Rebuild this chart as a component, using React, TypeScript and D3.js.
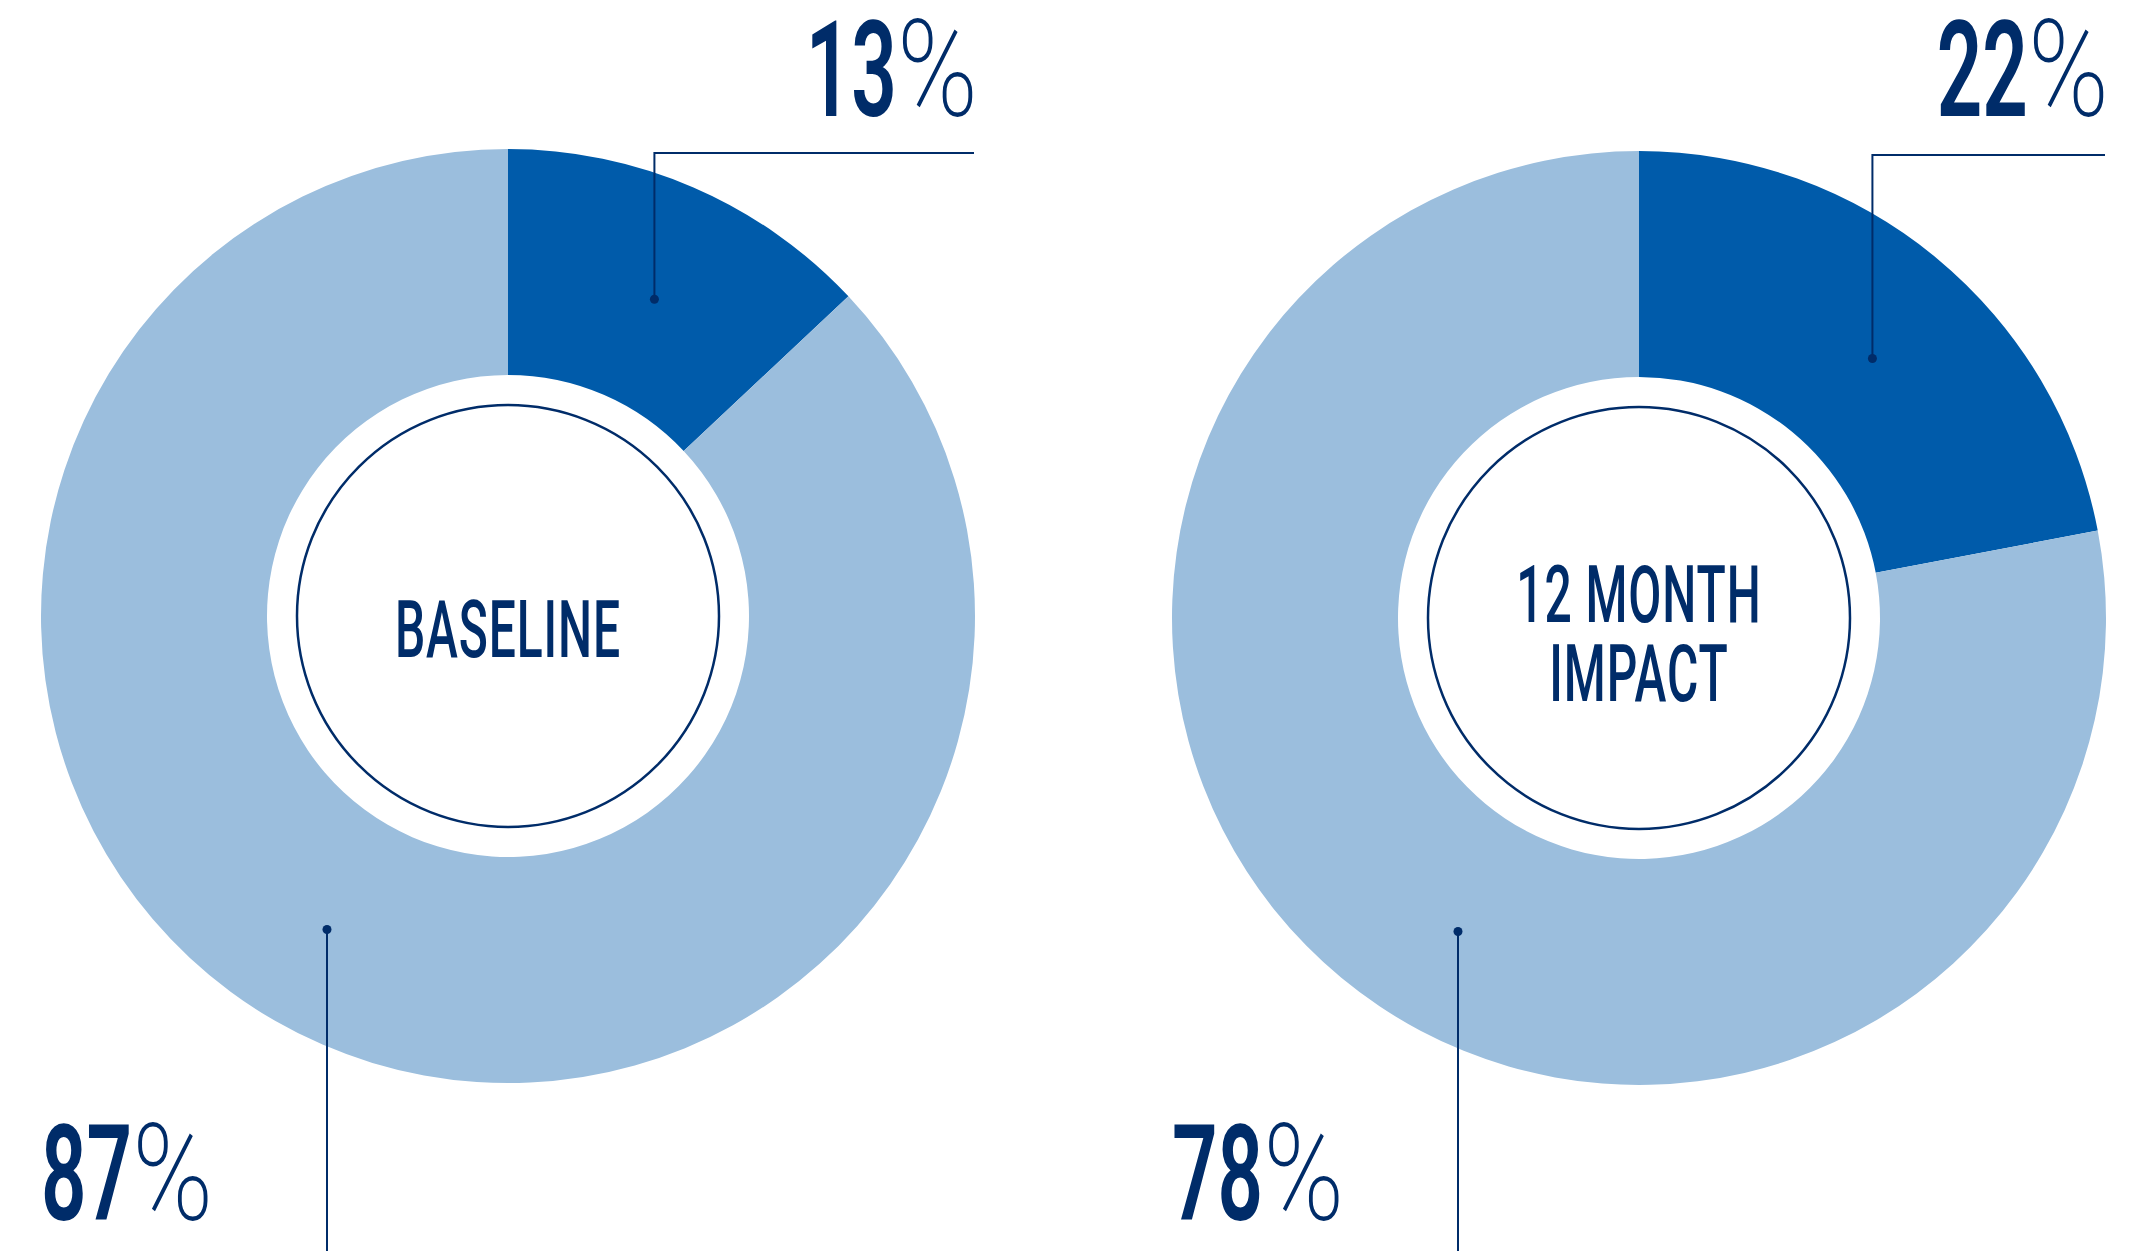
import React from 'react';
import * as d3 from 'd3';

// ---- data ----
const chartTitles = ['BASELINE', '12 MONTH IMPACT'];
const titleLines = [['BASELINE'], ['12 MONTH', 'IMPACT']];
const highlightShare = [13, 22];
const remainderShare = [87, 78];

// ---- style ----
const W = 2146;
const H = 1251;
const DARK = '#005BAA';
const LIGHT = '#9BBEDD';
const NAVY = '#002C69';
const FONT = 'Roboto, "Liberation Sans", sans-serif';
const centers = [
  { cx: 508, cy: 616 },
  { cx: 1639, cy: 618 },
];
const R_OUT = 467;
const R_IN = 241;
const R_RING = 211;
const SX = 0.6; // horizontal condense factor for digits
const PX = 0.82; // horizontal condense for percent sign
const PY = 1.02;

function Pct({ x, y, value, anchor }: { x: number; y: number; value: number; anchor: 'start' | 'end' }) {
  const dRef = React.useRef<SVGTextElement>(null);
  const pRef = React.useRef<SVGTextElement>(null);
  const [m, setM] = React.useState({ dw: 0, pw: 0 });
  React.useLayoutEffect(() => {
    if (dRef.current && pRef.current) {
      const dw = dRef.current.getBBox().width * SX;
      const pw = pRef.current.getBBox().width * PX;
      if (Math.abs(dw - m.dw) > 0.5 || Math.abs(pw - m.pw) > 0.5) setM({ dw, pw });
    }
  });
  const total = m.dw + m.pw;
  const x0 = anchor === 'end' ? x - total : x;
  return (
    <g fill={NAVY} fontFamily={FONT}>
      <text ref={dRef} transform={`translate(${x0},${y}) scale(${SX},1)`} fontSize={133} fontWeight={600}>
        {value}
      </text>
      <text ref={pRef} transform={`translate(${x0 + m.dw},${y}) scale(${PX},${PY})`} fontSize={133} fontWeight={200}>
        %
      </text>
    </g>
  );
}

function Donut({ i }: { i: number }) {
  const { cx, cy } = centers[i];
  const values = [highlightShare[i], remainderShare[i]];
  const pie = d3.pie<number>().sort(null).value((d) => d).startAngle(0).endAngle(2 * Math.PI);
  const arcs = pie(values);
  const arc = d3.arc<d3.PieArcDatum<number>>().innerRadius(R_IN).outerRadius(R_OUT);
  const colors = [DARK, LIGHT];

  // leader dot for highlight slice
  const hA = arcs[0].startAngle + 0.53 * (arcs[0].endAngle - arcs[0].startAngle);
  const hr = 349;
  const hx = Math.sin(hA) * hr;
  const hy = -Math.cos(hA) * hr;
  // leader dot for remainder slice
  const restAngle = (210 * Math.PI) / 180;
  const rr = 362;
  const rx = Math.sin(restAngle) * rr;
  const ry = -Math.cos(restAngle) * rr;

  const topLineY = cy - R_OUT + 4;
  const topLineEnd = cx + R_OUT - 1;
  const lines = titleLines[i];
  const lh = 79;
  const baseY = cy + 41 - ((lines.length - 1) * lh) / 2 + (lines.length > 1 ? 2 : 0);

  return (
    <g>
      <g transform={`translate(${cx},${cy})`}>
        {arcs.map((a, k) => (
          <path key={k} d={arc(a) || ''} fill={colors[k]} />
        ))}
        <circle r={R_RING} fill="#fff" stroke={NAVY} strokeWidth={2.5} />
        {lines.map((t, k) => (
          <text
            key={k}
            transform={`translate(0,${baseY - cy + k * lh}) scale(0.6,1)`}
            textAnchor="middle"
            fill={NAVY}
            fontFamily={FONT}
            fontWeight={500}
            fontSize={80}
            letterSpacing={1.5}
          >
            {t}
          </text>
        ))}
      </g>
      {/* top leader */}
      <polyline
        points={`${cx + hx},${cy + hy} ${cx + hx},${topLineY} ${topLineEnd},${topLineY}`}
        fill="none"
        stroke={NAVY}
        strokeWidth={2}
      />
      <circle cx={cx + hx} cy={cy + hy} r={4.5} fill={NAVY} />
      {/* bottom leader */}
      <line x1={cx + rx} y1={cy + ry} x2={cx + rx} y2={H} stroke={NAVY} strokeWidth={2} />
      <circle cx={cx + rx} cy={cy + ry} r={4.5} fill={NAVY} />
      <Pct x={topLineEnd + 4} y={116} value={highlightShare[i]} anchor="end" />
      <Pct x={cx - R_OUT} y={1220} value={remainderShare[i]} anchor="start" />
      <title>{chartTitles[i]}</title>
    </g>
  );
}

export default function App() {
  return (
    <svg
      width={W}
      height={H}
      viewBox={`0 0 ${W} ${H}`}
      style={{ position: 'absolute', left: 0, top: 0, display: 'block', background: '#fff' }}
    >
      <rect width={W} height={H} fill="#fff" />
      {chartTitles.map((_, i) => (
        <Donut key={i} i={i} />
      ))}
    </svg>
  );
}
